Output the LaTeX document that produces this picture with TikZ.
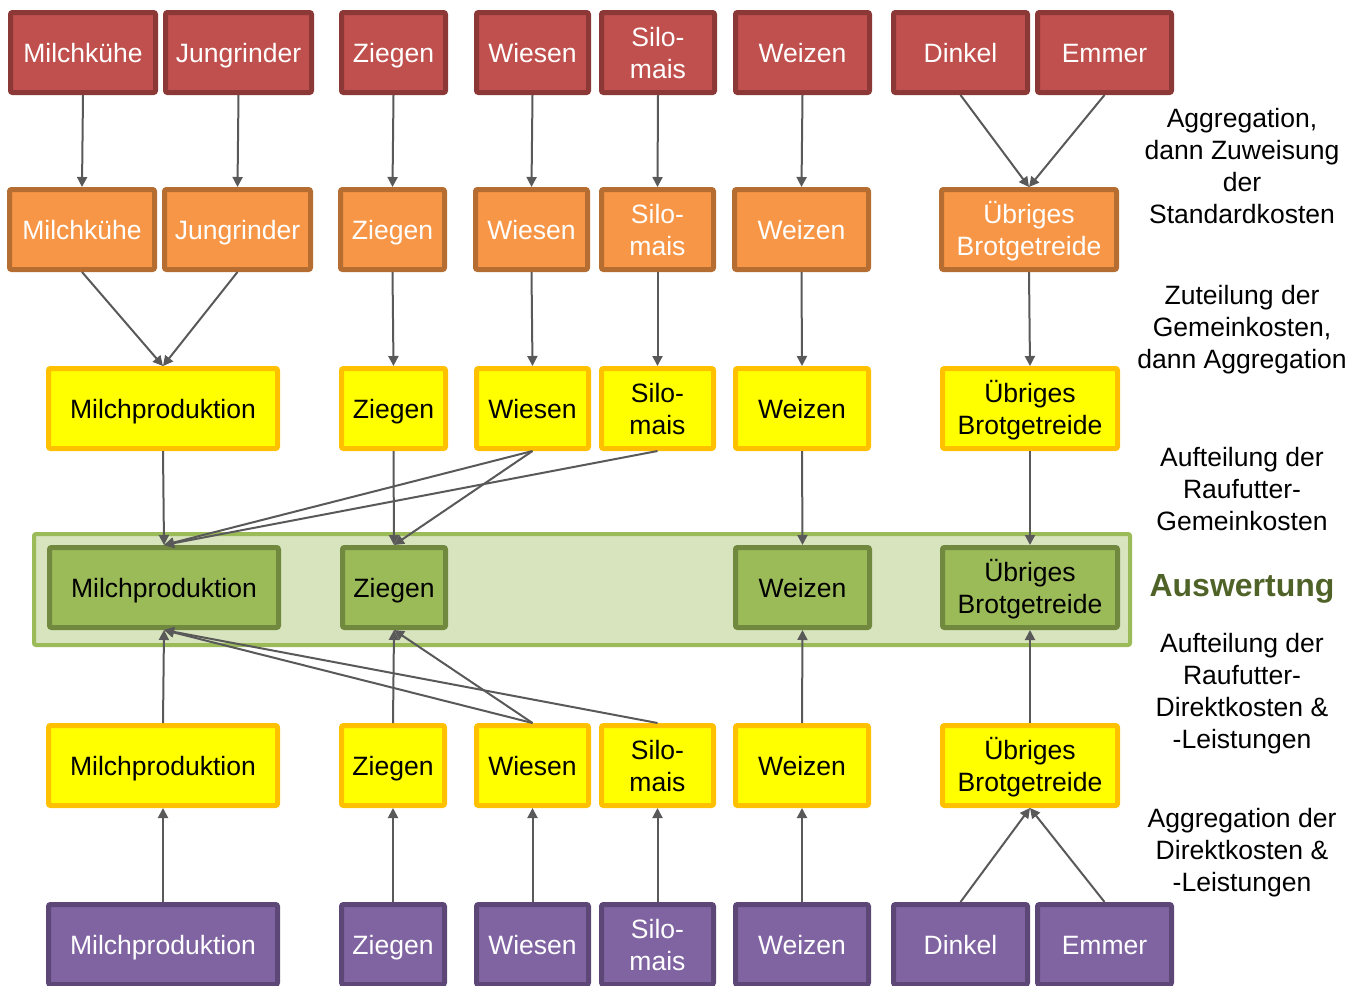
\documentclass[tikz,border=0pt]{standalone}
\usepackage{fontspec}
\setmainfont{Liberation Sans}
\usetikzlibrary{arrows.meta}
\definecolor{redF}{HTML}{C0504D}\definecolor{redD}{HTML}{8C3836}
\definecolor{orF}{HTML}{F79646}\definecolor{orD}{HTML}{B66D31}
\definecolor{yeF}{HTML}{FFFF00}\definecolor{yeD}{HTML}{FFC000}
\definecolor{grF}{HTML}{9BBB59}\definecolor{grD}{HTML}{71893F}
\definecolor{grBG}{HTML}{D7E4BD}
\definecolor{puF}{HTML}{8064A2}\definecolor{puD}{HTML}{5C4776}
\definecolor{auswC}{HTML}{4F6228}
\definecolor{arrC}{HTML}{595959}
\newcommand\stt{\vrule height 19pt depth 4.7pt width 0pt\relax}
\newcommand\bx[6]{\node[#1,minimum width={(#5-#4-5)*0.75pt}] (#2) at ({(#4+#5)/2},#3) {\stt #6};}
\newcommand\nl{\\\stt}
\tikzset{
  basebox/.style={rectangle, rounded corners=1.5pt, line width=3.75pt, minimum height=60pt, inner sep=2pt, align=center, font=\fontsize{19.9}{24}\selectfont},
  redbox/.style={basebox, fill=redF, draw=redD, text=white},
  orbox/.style={basebox, fill=orF, draw=orD, text=white},
  yebox/.style={basebox, fill=yeF, draw=yeD, text=black},
  grbox/.style={basebox, fill=grF, draw=grD, text=black},
  pubox/.style={basebox, fill=puF, draw=puD, text=white},
  conn/.style={draw=arrC, line width=1.5pt, -{Triangle[length=7.5pt,width=7.5pt]}},
  note/.style={align=center, font=\fontsize{19.9}{24}\selectfont, text=black},
}
\begin{document}
\begin{tikzpicture}[x=0.75pt,y=-0.75pt]
\useasboundingbox (0,0) rectangle (1365,986);
% green background band
\path[fill=grBG, draw=grF, line width=3pt, rounded corners=1.5pt] (34,534) rectangle (1130,645);
% row 1 red
\bx{redbox}{rMk}{52.5}{8}{158}{Milchkühe}
\bx{redbox}{rJr}{52.5}{163}{314}{Jungrinder}
\bx{redbox}{rZi}{52.5}{339}{448}{Ziegen}
\bx{redbox}{rWi}{52.5}{474}{591}{Wiesen}
\bx{redbox}{rSi}{52.5}{599}{717}{Silo-\nl mais}
\bx{redbox}{rWe}{52.5}{733}{872}{Weizen}
\bx{redbox}{rDi}{52.5}{891}{1030}{Dinkel}
\bx{redbox}{rEm}{52.5}{1035}{1174}{Emmer}
% row 2 orange
\bx{orbox}{oMk}{229.5}{7}{157}{Milchkühe}
\bx{orbox}{oJr}{229.5}{162}{313}{Jungrinder}
\bx{orbox}{oZi}{229.5}{338}{447}{Ziegen}
\bx{orbox}{oWi}{229.5}{473}{590}{Wiesen}
\bx{orbox}{oSi}{229.5}{599}{716}{Silo-\nl mais}
\bx{orbox}{oWe}{229.5}{732}{871}{Weizen}
\bx{orbox}{oUb}{229.5}{939}{1119}{Übriges\nl Brotgetreide}
% row 3 yellow
\bx{yebox}{aMp}{408.5}{46}{280}{Milchproduktion}
\bx{yebox}{aZi}{408.5}{339}{448}{Ziegen}
\bx{yebox}{aWi}{408.5}{474}{591}{Wiesen}
\bx{yebox}{aSi}{408.5}{599}{716}{Silo-\nl mais}
\bx{yebox}{aWe}{408.5}{733}{871}{Weizen}
\bx{yebox}{aUb}{408.5}{940}{1120}{Übriges\nl Brotgetreide}
% row 4 green
\bx{grbox}{gMp}{587.5}{47}{281}{Milchproduktion}
\bx{grbox}{gZi}{587.5}{340}{448}{Ziegen}
\bx{grbox}{gWe}{587.5}{733}{872}{Weizen}
\bx{grbox}{gUb}{587.5}{940}{1120}{Übriges\nl Brotgetreide}
% row 5 yellow
\bx{yebox}{bMp}{765.5}{46}{280}{Milchproduktion}
\bx{yebox}{bZi}{765.5}{339}{447}{Ziegen}
\bx{yebox}{bWi}{765.5}{474}{591}{Wiesen}
\bx{yebox}{bSi}{765.5}{599}{716}{Silo-\nl mais}
\bx{yebox}{bWe}{765.5}{733}{871}{Weizen}
\bx{yebox}{bUb}{765.5}{940}{1120}{Übriges\nl Brotgetreide}
% row 6 purple
\bx{pubox}{pMp}{944.5}{46}{280}{Milchproduktion}
\bx{pubox}{pZi}{944.5}{339}{447}{Ziegen}
\bx{pubox}{pWi}{944.5}{474}{591}{Wiesen}
\bx{pubox}{pSi}{944.5}{599}{716}{Silo-\nl mais}
\bx{pubox}{pWe}{944.5}{733}{871}{Weizen}
\bx{pubox}{pDi}{944.5}{891}{1030}{Dinkel}
\bx{pubox}{pEm}{944.5}{1035}{1174}{Emmer}
% connectors row1 -> row2
\draw[conn] (rMk.south) -- (oMk.north);
\draw[conn] (rJr.south) -- (oJr.north);
\draw[conn] (rZi.south) -- (oZi.north);
\draw[conn] (rWi.south) -- (oWi.north);
\draw[conn] (rSi.south) -- (oSi.north);
\draw[conn] (rWe.south) -- (oWe.north);
\draw[conn] (rDi.south) -- (oUb.north);
\draw[conn] (rEm.south) -- (oUb.north);
% row2 -> row3
\draw[conn] (oMk.south) -- (aMp.north);
\draw[conn] (oJr.south) -- (aMp.north);
\draw[conn] (oZi.south) -- (aZi.north);
\draw[conn] (oWi.south) -- (aWi.north);
\draw[conn] (oSi.south) -- (aSi.north);
\draw[conn] (oWe.south) -- (aWe.north);
\draw[conn] (oUb.south) -- (aUb.north);
% row3 -> row4
\draw[conn] (aMp.south) -- (gMp.north);
\draw[conn] (aZi.south) -- (gZi.north);
\draw[conn] (aWi.south) -- (gMp.north);
\draw[conn] (aWi.south) -- (gZi.north);
\draw[conn] (aSi.south) -- (gMp.north);
\draw[conn] (aWe.south) -- (gWe.north);
\draw[conn] (aUb.south) -- (gUb.north);
% row5 -> row4
\draw[conn] (bMp.north) -- (gMp.south);
\draw[conn] (bZi.north) -- (gZi.south);
\draw[conn] (bWi.north) -- (gMp.south);
\draw[conn] (bWi.north) -- (gZi.south);
\draw[conn] (bSi.north) -- (gMp.south);
\draw[conn] (bWe.north) -- (gWe.south);
\draw[conn] (bUb.north) -- (gUb.south);
% row6 -> row5
\draw[conn] (pMp.north) -- (bMp.south);
\draw[conn] (pZi.north) -- (bZi.south);
\draw[conn] (pWi.north) -- (bWi.south);
\draw[conn] (pSi.north) -- (bSi.south);
\draw[conn] (pWe.north) -- (bWe.south);
\draw[conn] (pDi.north) -- (bUb.south);
\draw[conn] (pEm.north) -- (bUb.south);
% right-hand notes
\node[note] (n1) at (1242,166) {Aggregation,\\dann Zuweisung\\der\\Standardkosten};
\node[note] (n2) at (1242,330) {Zuteilung der\\Gemeinkosten,\\dann Aggregation};
\node[note] (n3) at (1242,489) {Aufteilung der\\Raufutter-\\Gemeinkosten};
\node[note, text=auswC, font=\fontsize{24}{28}\selectfont\bfseries] (n4) at (1242,589) {Auswertung};
\node[note] (n5) at (1242,694) {Aufteilung der\\Raufutter-\\Direktkosten \&\\-Leistungen};
\node[note] (n6) at (1242,853) {Aggregation der\\Direktkosten \&\\-Leistungen};
\end{tikzpicture}
\end{document}
